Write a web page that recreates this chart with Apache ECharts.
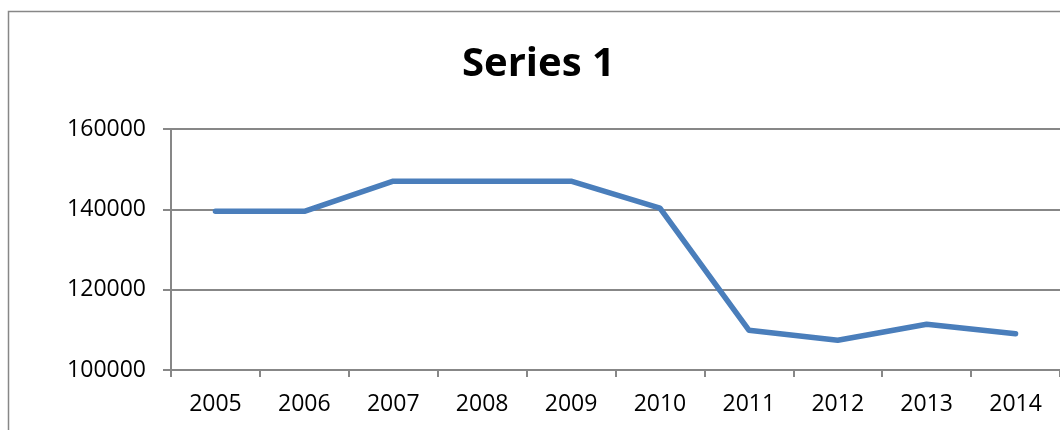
<!DOCTYPE html>
<html style="height: 100%">
  <head>
    <meta charset="utf-8" />
    <title>Series 1</title>
    <script src="https://cdn.jsdelivr.net/npm/echarts@6/dist/echarts.min.js"></script>
  </head>
  <body style="height: 100%; margin: 0; background: #fff">
    <div id="main" style="width: 1060px; height: 430px"></div>
    <script type="text/javascript">
      // data
      var years = ["2005", "2006", "2007", "2008", "2009", "2010", "2011", "2012", "2013", "2014"];
      var series1 = [139500, 139500, 147000, 147000, 147000, 140300, 109900, 107400, 111400, 109000];
      var yTicks = { min: 100000, max: 160000, interval: 20000 };

      var gray = "#878787";
      var font = "'Open Sans', 'Liberation Sans', sans-serif";

      var myChart = echarts.init(document.getElementById("main"));
      var option = {
        animation: false,
        title: {
          text: "Series 1",
          left: 457,
          top: 40,
          textStyle: { fontFamily: font, fontSize: 40, fontWeight: "bold", color: "#000" },
        },
        // outer chart frame (runs off the picture right and bottom)
        graphic: [
          {
            type: "rect",
            shape: { x: 8.5, y: 11.5, width: 1100, height: 500 },
            style: { fill: "none", stroke: gray, lineWidth: 1.5 },
            silent: true,
          },
        ],
        grid: { left: 171, top: 129, right: 0, bottom: 60 },
        xAxis: {
          type: "category",
          data: years,
          boundaryGap: true,
          axisLine: { lineStyle: { color: gray, width: 2 } },
          axisTick: { show: true, length: 7, lineStyle: { color: gray, width: 2 } },
          axisLabel: { color: "#000", fontFamily: font, fontSize: 23, margin: 23 },
        },
        yAxis: {
          type: "value",
          min: yTicks.min,
          max: yTicks.max,
          interval: yTicks.interval,
          axisLine: { show: true, lineStyle: { color: gray, width: 2 } },
          axisTick: { show: true, length: 8, lineStyle: { color: gray, width: 2 } },
          splitLine: { lineStyle: { color: gray, width: 2 } },
          axisLabel: {
            color: "#000",
            fontFamily: font,
            fontSize: 23,
            margin: 25,
            formatter: function (v) {
              return String(v);
            },
          },
        },
        series: [
          {
            name: "Series 1",
            type: "line",
            data: series1,
            showSymbol: false,
            symbol: "none",
            lineStyle: { color: "#4a7ebb", width: 5.5, join: "round", cap: "round" },
          },
        ],
      };
      myChart.setOption(option);
    </script>
  </body>
</html>
